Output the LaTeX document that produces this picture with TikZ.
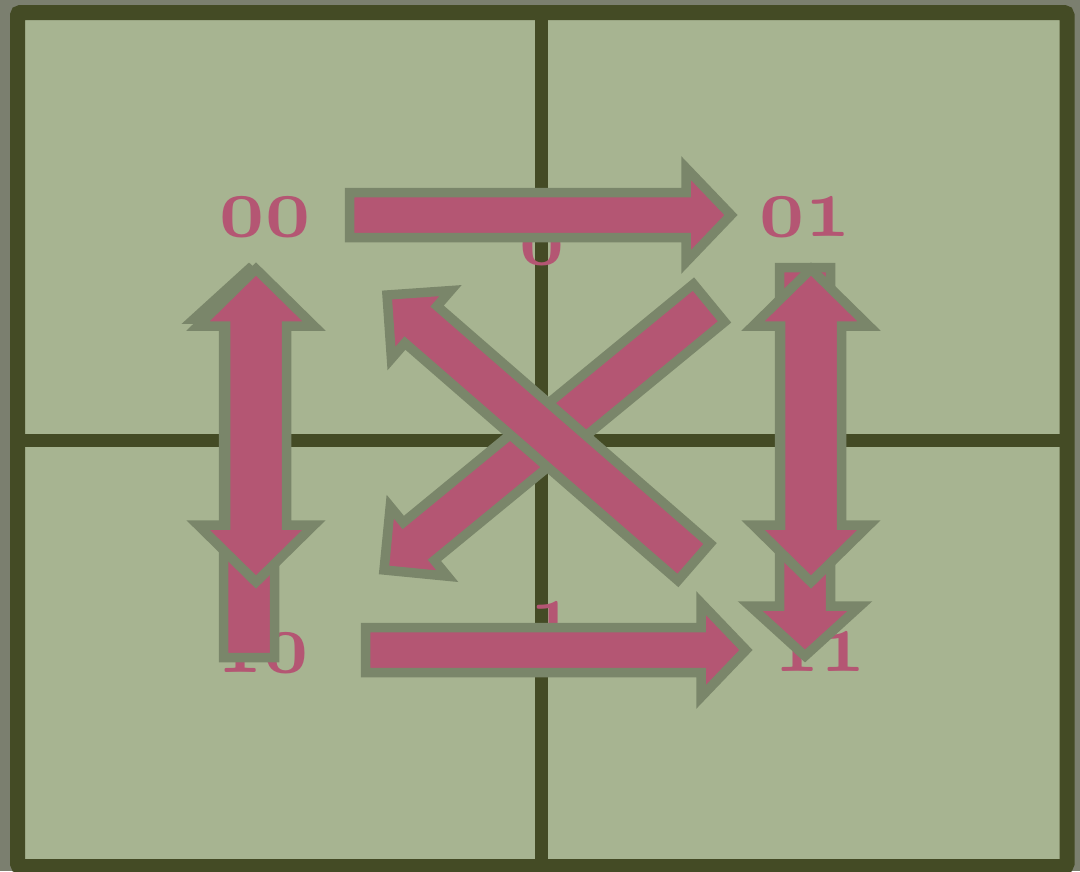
\documentclass[tikz,border=0pt]{standalone}
\usetikzlibrary{calc}
\definecolor{bgout}{HTML}{7B7F6F}
\definecolor{border}{HTML}{444B25}
\definecolor{cellfill}{HTML}{A7B491}
\definecolor{arrfill}{HTML}{B45673}
\definecolor{arrline}{HTML}{7A866A}
\newcommand\osnum[1]{{\usefont{OML}{cmm}{b}{it}#1}}
\tikzset{
  arr/.style={fill=arrfill, draw=arrline, line width=9.5pt, line join=miter},
  lbl/.style={text=arrfill, inner sep=0pt, xscale=3.15, yscale=3.5, font=\fontsize{24.88}{30}\selectfont},
  gridline/.style={draw=border, line width=13pt},
}
\newcommand\getdir[2]{%
  \path let \p1=(#1),\p2=(#2) in \pgfextra{%
    \pgfmathsetmacro\tmpang{atan2(\y2-\y1,\x2-\x1)}%
    \pgfmathsetmacro\tmplen{veclen(\x2-\x1,\y2-\y1)}%
    \global\let\gang\tmpang\global\let\glen\tmplen};}
% single block arrow: start, end, shaft half-width, head half-width, head length
\newcommand\sarrow[5]{%
  \getdir{#1}{#2}%
  \draw[arr,shift={(#1)},rotate=\gang] (0,#3) -- ({\glen-#5},#3) -- ({\glen-#5},#4) -- (\glen,0)
     -- ({\glen-#5},-#4) -- ({\glen-#5},-#3) -- (0,-#3) -- cycle;}
% double block arrow
\newcommand\darrow[5]{%
  \getdir{#1}{#2}%
  \draw[arr,shift={(#1)},rotate=\gang] (0,0) -- (#5,#4) -- (#5,#3) -- ({\glen-#5},#3) -- ({\glen-#5},#4) -- (\glen,0)
     -- ({\glen-#5},-#4) -- ({\glen-#5},-#3) -- (#5,-#3) -- (#5,-#4) -- cycle;}
\begin{document}
\begin{tikzpicture}[x=1pt,y=-1pt]
\useasboundingbox (0,0) rectangle (1080,871);
\fill[bgout] (0,0) rectangle (1080,871);
\draw[draw=border, line width=15pt, fill=cellfill, rounded corners=3pt] (17.5,12.5) rectangle (1067,866.5);
\draw[gridline] (541,12.5) -- (541,866.5);
\draw[gridline] (17.5,440) -- (1067,440);
% labels
\node[lbl] (n00) at (265,217) {\osnum{00}};
\node[lbl] (n01) at (805,217) {\osnum{01}};
\node[lbl] (n10) at (263,653) {\osnum{10}};
\node[lbl] (n11) at (820,652) {\osnum{11}};
\node[lbl] (c0) at (542,245) {\osnum{0}};
\node[lbl] (c1) at (553,622) {\osnum{1}};
% arrow end points
\coordinate (a10s) at (249,657.5);
\coordinate (a10e) at (249,269);
\coordinate (a01s) at (805,267.5);
\coordinate (a01e) at (805,656);
\coordinate (dLa) at (256,269);
\coordinate (dLb) at (256,582);
\coordinate (dRa) at (811,269);
\coordinate (dRb) at (811,582);
\coordinate (hTs) at (349.5,215);
\coordinate (hTe) at (731,215);
\coordinate (hBs) at (365.5,650);
\coordinate (hBe) at (746,650);
\coordinate (gSs) at (709,303);
\coordinate (gSe) at (384,570);
\coordinate (gNs) at (694,562);
\coordinate (gNe) at (387,295);
% arrows
\sarrow{a10s}{a10e}{25.5}{55}{50}
\sarrow{a01s}{a01e}{25.5}{55}{50}
\darrow{dLa}{dLb}{30.5}{58}{57}
\darrow{dRa}{dRb}{30.5}{58}{57}
\sarrow{hTs}{hTe}{22.5}{47}{45}
\sarrow{hBs}{hBe}{22.5}{47}{45}
\sarrow{gSs}{gSe}{24.5}{45}{45}
\sarrow{gNs}{gNe}{24.5}{45}{45}
\end{tikzpicture}
\end{document}
